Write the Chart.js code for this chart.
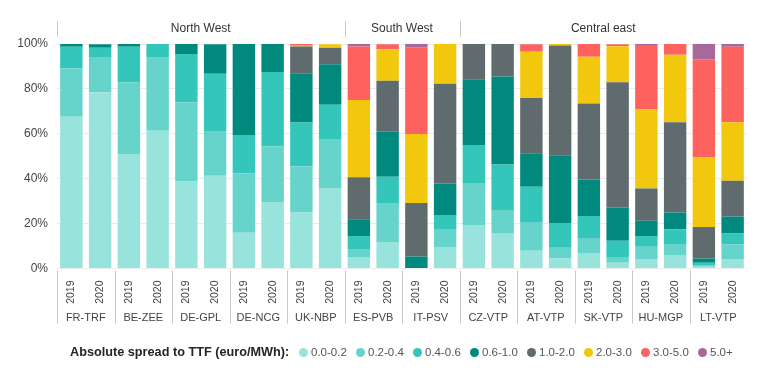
<!DOCTYPE html>
<html>
<head>
<meta charset="utf-8">
<script src="https://cdn.jsdelivr.net/npm/chart.js@4/dist/chart.umd.min.js"></script>
<style>
  html,body{margin:0;padding:0;background:#fff;}
  #wrap{position:relative;width:762px;height:372px;font-family:"Liberation Sans",Arial,sans-serif;}
  #legend{position:absolute;left:70px;top:345px;display:flex;align-items:center;white-space:nowrap;color:#444;}
  #legend .title{display:inline-block;width:229px;font-weight:bold;font-size:12.7px;color:#252423;}
  #legend .item{display:flex;align-items:center;width:57px;font-size:11.5px;color:#555;}
  #legend .dot{width:9px;height:9px;border-radius:50%;margin-right:3px;flex:none;}
</style>
</head>
<body>
<div id="wrap">
  <canvas id="c" width="762" height="372"></canvas>
  <div id="legend"></div>
</div>
<script>
// ---- data ----
const regions = ['North West', 'South West', 'Central east'];
const regionHubCounts = [5, 2, 5];
const hubs = ['FR-TRF','BE-ZEE','DE-GPL','DE-NCG','UK-NBP','ES-PVB','IT-PSV','CZ-VTP','AT-VTP','SK-VTP','HU-MGP','LT-VTP'];
const years = ['2019', '2020'];
const bands = ['0.0-0.2','0.2-0.4','0.4-0.6','0.6-1.0','1.0-2.0','2.0-3.0','3.0-5.0','5.0+'];
const legendTitle = 'Absolute spread to TTF (euro/MWh):';
const yTicks = [0, 20, 40, 60, 80, 100];

// share of days (%) per bar: FR19, FR20, BE19, BE20, ... LT19, LT20
const s00_02 = [67.6,78.5,51.0,61.4,38.7,41.3,15.9,29.6,24.9,35.9, 5.1,11.8, 0.0, 9.6,19.4,15.5, 7.9, 4.4, 6.9, 2.6, 4.2, 6.0, 0.8, 4.2];
const s02_04 = [21.6,15.7,31.8,32.8,35.2,20.0,26.5,24.9,20.5,21.4, 3.6,17.4, 0.0, 8.0,18.7,10.6,12.8, 4.8, 6.7, 2.5, 5.8, 4.6, 0.8, 6.5];
const s04_06 = [ 9.6, 4.1,16.0, 5.8,21.7,25.4,17.1,33.0,19.6,15.6, 5.8,11.7, 0.0, 6.2,16.9,20.2,15.7,11.1, 9.8, 7.3, 4.5, 6.9, 1.0, 4.9];
const s06_10 = [ 1.2, 1.6, 1.2, 0.0, 4.5,13.2,40.5,12.5,22.0,18.1, 7.4,20.0, 5.3,14.1,29.3,39.2,14.9,30.2,16.2,14.8, 6.8, 7.4, 1.8, 7.6];
const s10_20 = [ 0.0, 0.0, 0.0, 0.0, 0.0, 0.0, 0.0, 0.0,11.9, 7.3,18.7,22.7,23.9,44.4,15.7,14.6,24.6,48.8,33.9,55.8,14.3,40.3,14.1,15.9];
const s20_30 = [ 0.0, 0.0, 0.0, 0.0, 0.0, 0.0, 0.0, 0.0, 0.3, 1.6,34.5,14.1,30.7,17.7, 0.0, 0.0,20.6, 0.8,20.8,16.0,35.4,30.0,30.9,26.0];
const s30_50 = [ 0.0, 0.0, 0.0, 0.0, 0.0, 0.0, 0.0, 0.0, 0.8, 0.0,23.8, 2.2,38.6, 0.0, 0.0, 0.0, 3.4, 0.0, 5.8, 0.9,28.5, 4.9,43.8,33.7];
const s50p   = [ 0.0, 0.0, 0.0, 0.0, 0.0, 0.0, 0.0, 0.0, 0.0, 0.0, 1.2, 0.0, 1.5, 0.0, 0.0, 0.0, 0.0, 0.0, 0.0, 0.0, 0.6, 0.0, 6.8, 1.2];

const seriesValues = [s00_02, s02_04, s04_06, s06_10, s10_20, s20_30, s30_50, s50p];
const colors = ['#99E3DD','#67D4CC','#34C6BB','#01897D','#5F6B6D','#F2C80F','#FD625E','#A66999'];

// ---- build ----
const labels = [];
hubs.forEach(h => years.forEach(y => labels.push(y)));

const datasets = bands.map((b, i) => ({
  label: b,
  data: seriesValues[i],
  backgroundColor: colors[i],
  borderWidth: 0,
  barPercentage: 0.78,
  categoryPercentage: 1.0
}));

const FONT = '"Liberation Sans", Arial, sans-serif';

const groupPlugin = {
  id: 'groups',
  afterDraw(chart) {
    const ctx = chart.ctx;
    const x = chart.scales.x;
    const area = chart.chartArea;
    const n = labels.length;
    const half = (x.getPixelForValue(1) - x.getPixelForValue(0)) / 2;
    const edge = i => (i < n ? x.getPixelForValue(i) - half : x.getPixelForValue(n - 1) + half);
    ctx.save();
    ctx.strokeStyle = '#c8c8c8';
    ctx.lineWidth = 1;
    // hub separators and labels
    ctx.fillStyle = '#444';
    ctx.font = '11px ' + FONT;
    ctx.textAlign = 'center';
    ctx.textBaseline = 'middle';
    hubs.forEach((h, k) => {
      const l = edge(k * years.length);
      const r = edge((k + 1) * years.length);
      ctx.beginPath();
      ctx.moveTo(Math.round(l) + 0.5, area.bottom + 2);
      ctx.lineTo(Math.round(l) + 0.5, area.bottom + 55);
      ctx.stroke();
      ctx.fillText(h, (l + r) / 2, area.bottom + 49);
    });
    // region header
    ctx.fillStyle = '#333';
    ctx.font = '12px ' + FONT;
    let start = 0;
    regions.forEach((rg, k) => {
      const l = edge(start * years.length);
      const end = start + regionHubCounts[k];
      const r = edge(end * years.length);
      ctx.beginPath();
      ctx.moveTo(Math.round(l) + 0.5, area.top - 23);
      ctx.lineTo(Math.round(l) + 0.5, area.top - 7);
      ctx.stroke();
      ctx.fillText(rg, (l + r) / 2, area.top - 15);
      start = end;
    });
    ctx.restore();
  }
};

new Chart(document.getElementById('c'), {
  type: 'bar',
  data: { labels, datasets },
  options: {
    responsive: false,
    animation: false,
    layout: { padding: { top: 44, right: 15, left: 0, bottom: 0 } },
    plugins: { legend: { display: false }, tooltip: { enabled: false } },
    scales: {
      x: {
        stacked: true,
        grid: { display: false },
        border: { display: false },
        ticks: {
          autoSkip: false, minRotation: 90, maxRotation: 90, padding: 4,
          color: '#444', font: { family: FONT, size: 10.5 }
        },
        afterFit(scale) { scale.height = 103.5; }
      },
      y: {
        stacked: true,
        min: 0, max: 100,
        afterBuildTicks(scale) { scale.ticks = yTicks.map(v => ({ value: v })); },
        grid: { color: '#ebebeb', drawTicks: false },
        border: { display: false },
        ticks: {
          padding: 9, color: '#444', font: { family: FONT, size: 12 },
          callback: v => v + '%'
        },
        afterFit(scale) { scale.width = 57; }
      }
    }
  },
  plugins: [groupPlugin]
});

// HTML legend
const lg = document.getElementById('legend');
const t = document.createElement('span');
t.className = 'title';
t.textContent = legendTitle;
lg.appendChild(t);
bands.forEach((b, i) => {
  const it = document.createElement('span');
  it.className = 'item';
  const d = document.createElement('span');
  d.className = 'dot';
  d.style.background = colors[i];
  it.appendChild(d);
  it.appendChild(document.createTextNode(b));
  lg.appendChild(it);
});
</script>
</body>
</html>
